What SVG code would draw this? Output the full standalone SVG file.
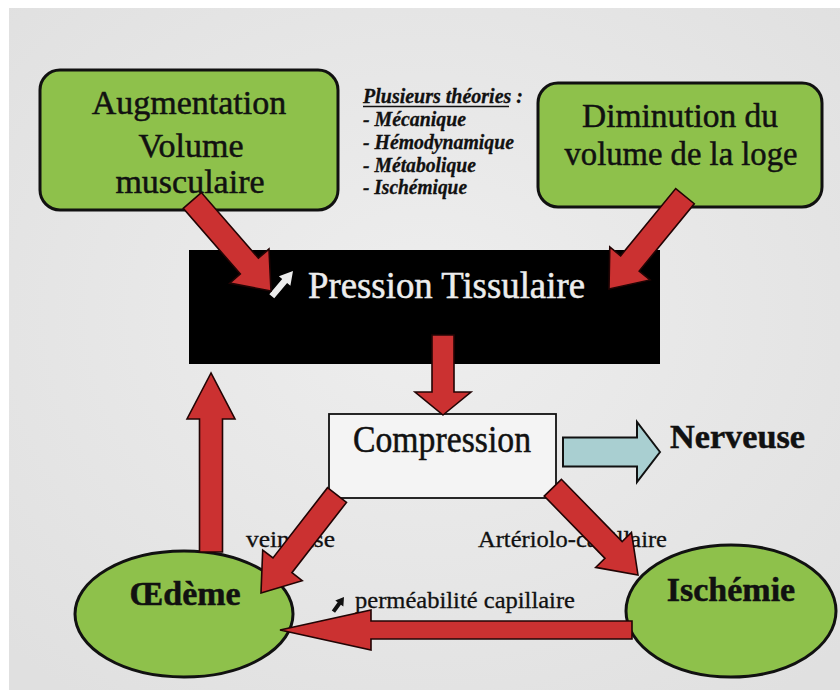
<svg xmlns="http://www.w3.org/2000/svg" width="840" height="690" viewBox="0 0 840 690">
  <defs>
    <radialGradient id="bg" cx="0.5" cy="0.45" r="0.7">
      <stop offset="0" stop-color="#eeeeee"/>
      <stop offset="1" stop-color="#e0e0e0"/>
    </radialGradient>
    <style>
      .serif { font-family: "Liberation Serif", "Times New Roman", serif; fill: #111; stroke: #111; stroke-width: 0.5; }
      .green { fill: #8ec14b; stroke: #111; stroke-width: 3; }
      .red { fill: #cb3131; stroke: #220404; stroke-width: 1.6; stroke-linejoin: miter; }
      .node-text { font-size: 34px; text-anchor: middle; }
      .bold-text { font-size: 34px; font-weight: bold; text-anchor: middle; }
      .label { font-size: 24px; stroke-width: 0.3; }
      .theory { font-size: 20px; font-weight: bold; font-style: italic; stroke-width: 0.3; }
      .white { fill: #ededed; stroke: #ededed; }
    </style>
  </defs>

  <rect x="0" y="0" width="840" height="690" fill="#ffffff"/>
  <rect x="9" y="8" width="831" height="682" fill="url(#bg)"/>

  <g id="node-augmentation">
    <rect class="green" x="40" y="70" width="298" height="140" rx="20"/>
    <text class="serif node-text" x="189" y="114">Augmentation</text>
    <text class="serif node-text" x="191" y="157">Volume</text>
    <text class="serif node-text" x="190" y="193">musculaire</text>
  </g>

  <g id="node-diminution">
    <rect class="green" x="538" y="83" width="284" height="124" rx="20"/>
    <text class="serif node-text" x="680" y="127" textLength="196" lengthAdjust="spacingAndGlyphs">Diminution du</text>
    <text class="serif node-text" x="681" y="165" textLength="233" lengthAdjust="spacingAndGlyphs">volume de la loge</text>
  </g>

  <g id="theories">
    <text class="serif theory" x="363" y="103" textLength="160" lengthAdjust="spacingAndGlyphs">Plusieurs théories :</text>
    <line x1="363" y1="106.5" x2="509" y2="106.5" stroke="#111" stroke-width="1.3"/>
    <text class="serif theory" x="363" y="126" textLength="103" lengthAdjust="spacingAndGlyphs">- Mécanique</text>
    <text class="serif theory" x="363" y="149" textLength="151" lengthAdjust="spacingAndGlyphs">- Hémodynamique</text>
    <text class="serif theory" x="363" y="172" textLength="113" lengthAdjust="spacingAndGlyphs">- Métabolique</text>
    <text class="serif theory" x="363" y="194" textLength="104" lengthAdjust="spacingAndGlyphs">- Ischémique</text>
  </g>

  <g id="node-pression">
    <rect x="189" y="250" width="471" height="114" fill="#000000"/>
    <path d="M0,0 L-13,-7.5 L-13,-3.2 L-33,-3.2 L-33,3.2 L-13,3.2 L-13,7.5 Z" fill="#ececec" transform="translate(293,271) rotate(-50)"/>
    <text class="serif white" x="308" y="298" font-size="38" textLength="277" lengthAdjust="spacingAndGlyphs">Pression Tissulaire</text>
  </g>

  <g id="node-compression">
    <rect x="329" y="414" width="227" height="84" fill="#f4f4f4" stroke="#111" stroke-width="1.8"/>
    <text class="serif" x="353" y="452" font-size="37" textLength="178" lengthAdjust="spacingAndGlyphs">Compression</text>
  </g>

  <g id="node-nerveuse">
    <text class="serif" x="670" y="448" font-size="34" font-weight="bold" textLength="135" lengthAdjust="spacingAndGlyphs">Nerveuse</text>
  </g>

  <g id="node-oedeme">
    <ellipse class="green" cx="184" cy="614" rx="109" ry="63" stroke-width="2.5"/>
    <text class="serif bold-text" x="185" y="605">Œdème</text>
  </g>

  <g id="node-ischemie">
    <ellipse class="green" cx="731" cy="611" rx="105" ry="66" stroke-width="2.5"/>
    <text class="serif bold-text" x="731" y="601">Ischémie</text>
  </g>

  <g id="labels">
    <text class="serif label" x="246" y="547" textLength="89" lengthAdjust="spacingAndGlyphs">veineuse</text>
    <text class="serif label" x="478" y="547" textLength="189" lengthAdjust="spacingAndGlyphs">Artériolo-capillaire</text>
    <path d="M0,0 L-8,-5 L-8,-2 L-18,-2 L-18,2 L-8,2 L-8,5 Z" fill="#111" transform="translate(344,597) rotate(-54)"/>
    <text class="serif label" x="355" y="608" textLength="220" lengthAdjust="spacingAndGlyphs">perméabilité capillaire</text>
  </g>

  <g id="connectors">
    <path class="red" d="M0,0 L-33,-26 L-33,-12 L-120,-12 L-120,12 L-33,12 L-33,26 Z" transform="translate(271,291) rotate(49)"/>
    <path class="red" d="M0,0 L-33,-26 L-33,-12 L-120,-12 L-120,12 L-33,12 L-33,26 Z" transform="translate(609,289) rotate(129.3)"/>
    <path class="red" d="M0,0 L-23,-28 L-23,-11 L-80,-11 L-80,11 L-23,11 L-23,28 Z" transform="translate(443,415) rotate(90)"/>
    <path class="red" d="M0,0 L-46,-24 L-46,-11.5 L-179,-11.5 L-179,11.5 L-46,11.5 L-46,24 Z" transform="translate(211,373) rotate(-90)"/>
    <path class="red" d="M0,0 L-35,-25 L-35,-12 L-124,-12 L-124,12 L-35,12 L-35,25 Z" transform="translate(261,593) rotate(127.8)"/>
    <path class="red" d="M0,0 L-35,-25 L-35,-12 L-122,-12 L-122,12 L-35,12 L-35,25 Z" transform="translate(638,575) rotate(45.7)"/>
    <path class="red" d="M0,0 L-91,-20 L-91,-9 L-352,-9 L-352,9 L-91,9 L-91,20 Z" transform="translate(280,630) rotate(180)"/>
    <path d="M0,0 L-23,-30 L-23,-14.5 L-97,-14.5 L-97,14.5 L-23,14.5 L-23,30 Z" fill="#a9cfd1" stroke="#111" stroke-width="2" transform="translate(660,452)"/>
  </g>
</svg>
